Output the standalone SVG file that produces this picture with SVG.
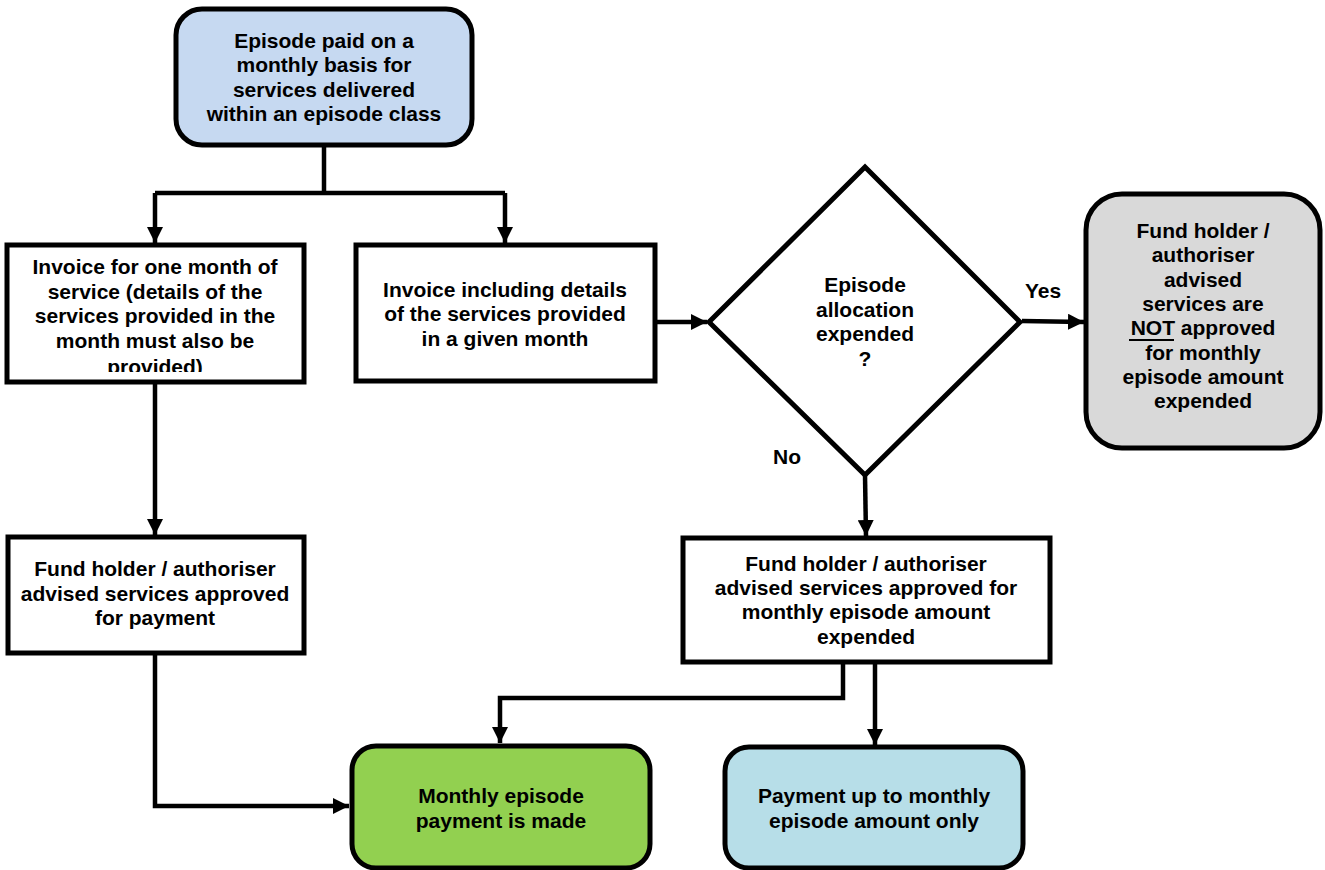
<svg xmlns="http://www.w3.org/2000/svg" width="1325" height="870" viewBox="0 0 1325 870">
<defs>
<marker id="arr" markerUnits="userSpaceOnUse" markerWidth="18" markerHeight="16" refX="16" refY="8" orient="auto">
<path d="M0,0 L16,8 L0,16 Z" fill="#000"/>
</marker>
<clipPath id="clipInv">
<rect x="7" y="245" width="297" height="127"/>
</clipPath>
<style>
.box{stroke:#000;stroke-width:5;}
.t{font-family:"Liberation Sans",Arial,sans-serif;font-weight:bold;font-size:21px;fill:#000;text-anchor:middle;}
.c{fill:none;stroke:#000;stroke-width:4.5;stroke-linejoin:miter;}
</style>
</defs>
<rect width="1325" height="870" fill="#fff"/>

<g id="connectors">
<path class="c" d="M324,145 V193"/>
<path class="c" d="M155,193 H505"/>
<path class="c" d="M155,193 V243" marker-end="url(#arr)"/>
<path class="c" d="M505,193 V243" marker-end="url(#arr)"/>
<path class="c" d="M155,382 V535" marker-end="url(#arr)"/>
<path class="c" d="M655,322 H707" marker-end="url(#arr)"/>
<path class="c" d="M1022,321 L1084,322" marker-end="url(#arr)"/>
<path class="c" d="M865,475 L866,536" marker-end="url(#arr)"/>
<path class="c" d="M843,655 V698 H500 V743" marker-end="url(#arr)"/>
<path class="c" d="M875,662 V745" marker-end="url(#arr)"/>
<path class="c" d="M155,653 V806 H349" marker-end="url(#arr)"/>
</g>

<g id="start">
<rect class="box" x="176" y="9" width="296" height="136" rx="26" fill="#c6d9f1"/>
<text class="t" x="324" y="48">Episode paid on a</text>
<text class="t" x="324" y="72.3">monthly basis for</text>
<text class="t" x="324" y="96.6">services delivered</text>
<text class="t" x="324" y="121">within an episode class</text>
</g>

<g id="invoice-one-month">
<rect class="box" x="7" y="245" width="297" height="137" fill="#fff"/>
<g clip-path="url(#clipInv)">
<text class="t" x="155" y="274">Invoice for one month of</text>
<text class="t" x="155" y="298.5">service (details of the</text>
<text class="t" x="155" y="323">services provided in the</text>
<text class="t" x="155" y="347.5">month must also be</text>
<text class="t" x="155" y="374">provided)</text>
</g>
</g>

<g id="invoice-details">
<rect class="box" x="356" y="245" width="299" height="136" fill="#fff"/>
<text class="t" x="505" y="296.5">Invoice including details</text>
<text class="t" x="505" y="321">of the services provided</text>
<text class="t" x="505" y="345.5">in a given month</text>
</g>

<g id="decision">
<polygon class="box" points="865,167 1020,322 865,475 709,322" fill="#fff" stroke-linejoin="miter"/>
<text class="t" x="865" y="292">Episode</text>
<text class="t" x="865" y="316.5">allocation</text>
<text class="t" x="865" y="341">expended</text>
<text class="t" x="865" y="365.5">?</text>
</g>

<g id="labels">
<text class="t" x="1043" y="298">Yes</text>
<text class="t" x="787" y="464">No</text>
</g>

<g id="not-approved">
<rect class="box" x="1086" y="194" width="234" height="254" rx="36" fill="#d9d9d9"/>
<text class="t" x="1203" y="238">Fund holder /</text>
<text class="t" x="1203" y="262.3">authoriser</text>
<text class="t" x="1203" y="286.6">advised</text>
<text class="t" x="1203" y="311">services are</text>
<text class="t" x="1203" y="335.2">NOT approved</text>
<path d="M1129,340 H1174" stroke="#000" stroke-width="2"/>
<text class="t" x="1203" y="359.5">for monthly</text>
<text class="t" x="1203" y="383.8">episode amount</text>
<text class="t" x="1203" y="408.1">expended</text>
</g>

<g id="approved-payment">
<rect class="box" x="8" y="537" width="296" height="116" fill="#fff"/>
<text class="t" x="155" y="576">Fund holder / authoriser</text>
<text class="t" x="155" y="600.5">advised services approved</text>
<text class="t" x="155" y="625">for payment</text>
</g>

<g id="approved-monthly">
<rect class="box" x="683" y="538" width="367" height="124" fill="#fff"/>
<text class="t" x="866" y="570.5">Fund holder / authoriser</text>
<text class="t" x="866" y="595">advised services approved for</text>
<text class="t" x="866" y="619">monthly episode amount</text>
<text class="t" x="866" y="643.5">expended</text>
</g>

<g id="payment-made">
<rect class="box" x="352" y="746" width="298" height="122" rx="24" fill="#92d050"/>
<text class="t" x="501" y="803">Monthly episode</text>
<text class="t" x="501" y="827.5">payment is made</text>
</g>

<g id="payment-up-to">
<rect class="box" x="725" y="747" width="298" height="121" rx="24" fill="#b7dee8"/>
<text class="t" x="874" y="803">Payment up to monthly</text>
<text class="t" x="874" y="827.5">episode amount only</text>
</g>
</svg>
